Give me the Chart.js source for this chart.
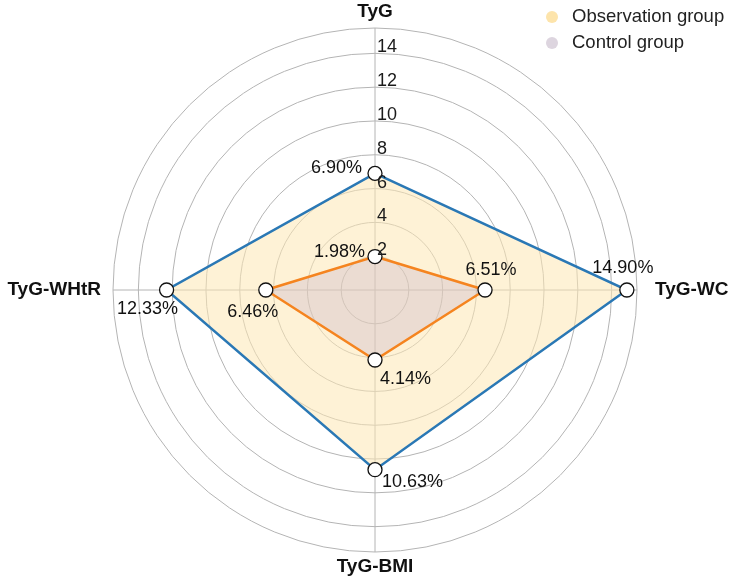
<!DOCTYPE html>
<html>
<head>
<meta charset="utf-8">
<script src="https://cdn.jsdelivr.net/npm/chart.js@4.4.1/dist/chart.umd.min.js"></script>
<style>
  html, body { margin: 0; padding: 0; background: #fff; }
  #wrap { position: relative; width: 730px; height: 581px; }
</style>
</head>
<body>
<div id="wrap"><canvas id="radar"></canvas></div>
<script>
const indicators = ['TyG', 'TyG-WC', 'TyG-BMI', 'TyG-WHtR']
const seriesNames = ['Observation group', 'Control group']
const observation = [6.90, 14.90, 10.63, 12.33]
const control = [1.98, 6.51, 4.14, 6.46]
const tickValues = [2, 4, 6, 8, 10, 12, 14]

const FONT = '"Liberation Sans", Arial, sans-serif'

// label offsets (dx, dy, align) per point, observation then control
const obsLabelPos = [[-13, -5, 'right'], [-4, -22, 'center'], [7, 12, 'left'], [-19, 19, 'center']]
const ctlLabelPos = [[-10, -5, 'right'], [6, -20, 'center'], [5, 19, 'left'], [-13, 22, 'center']]
// gap between outer ring and axis name, and its alignment
const axisNameGap = [16, 18, 15, 12]
const axisNameAlign = ['center', 'left', 'center', 'right']

const extras = {
  id: 'extras',
  afterDatasetsDraw(chart) {
    const { ctx } = chart
    const r = chart.scales.r
    ctx.save()

    // axis names
    ctx.font = 'bold 19px ' + FONT
    ctx.fillStyle = '#111'
    ctx.textBaseline = 'middle'
    indicators.forEach((name, i) => {
      const p = r.getPointPosition(i, r.drawingArea + axisNameGap[i])
      ctx.textAlign = axisNameAlign[i]
      ctx.fillText(name, p.x, p.y)
    })

    // tick labels along the top axis
    ctx.font = '18px ' + FONT
    ctx.fillStyle = '#1a1a1a'
    ctx.textAlign = 'left'
    ctx.textBaseline = 'bottom'
    tickValues.forEach(v => {
      const d = r.getDistanceFromCenterForValue(v)
      ctx.fillText(String(v), r.xCenter + 2, r.yCenter - d + 3)
    })

    // percentage labels
    ctx.font = '18px ' + FONT
    ctx.fillStyle = '#111'
    ctx.textBaseline = 'middle'
    const drawLabels = (idx, values, pos) => {
      const meta = chart.getDatasetMeta(idx)
      meta.data.forEach((pt, i) => {
        const [dx, dy, al] = pos[i]
        ctx.textAlign = al
        ctx.fillText(values[i].toFixed(2) + '%', pt.x + dx, pt.y + dy)
      })
    }
    drawLabels(0, observation, obsLabelPos)
    drawLabels(1, control, ctlLabelPos)

    // legend, top right
    const legendColors = ['#fde4ab', '#ddd5df']
    ctx.font = '18.5px ' + FONT
    ctx.textAlign = 'left'
    ctx.textBaseline = 'middle'
    seriesNames.forEach((name, i) => {
      const y = 17 + i * 26
      ctx.beginPath()
      ctx.arc(552, y, 6, 0, Math.PI * 2)
      ctx.fillStyle = legendColors[i]
      ctx.fill()
      ctx.fillStyle = '#222'
      ctx.fillText(name, 572, y)
    })
    ctx.restore()
  }
}

new Chart(document.getElementById('radar'), {
  type: 'radar',
  data: {
    labels: indicators,
    datasets: [
      {
        label: seriesNames[0],
        data: observation,
        borderColor: '#2a78b5',
        backgroundColor: 'rgba(253, 231, 180, 0.55)',
        borderWidth: 2.5,
        fill: true,
        pointRadius: 7,
        pointHoverRadius: 7,
        pointBackgroundColor: '#fff',
        pointBorderColor: '#111',
        pointBorderWidth: 1.3,
        order: 2
      },
      {
        label: seriesNames[1],
        data: control,
        borderColor: '#f5841f',
        backgroundColor: 'rgba(190, 170, 200, 0.3)',
        borderWidth: 2.5,
        fill: true,
        pointRadius: 7,
        pointHoverRadius: 7,
        pointBackgroundColor: '#fff',
        pointBorderColor: '#111',
        pointBorderWidth: 1.3,
        order: 1
      }
    ]
  },
  options: {
    responsive: true,
    maintainAspectRatio: false,
    animation: false,
    layout: { padding: { top: 28, bottom: 28, left: 20, right: 0 } },
    plugins: { legend: { display: false }, tooltip: { enabled: false } },
    elements: { line: { tension: 0 } },
    scales: {
      r: {
        min: 0,
        max: 15.5,
        ticks: { stepSize: 2, display: false },
        grid: { circular: true, color: '#b4b4b4', lineWidth: 1 },
        angleLines: { color: '#b4b4b4', lineWidth: 1 },
        pointLabels: { display: false }
      }
    }
  },
  plugins: [extras]
})
</script>
</body>
</html>
